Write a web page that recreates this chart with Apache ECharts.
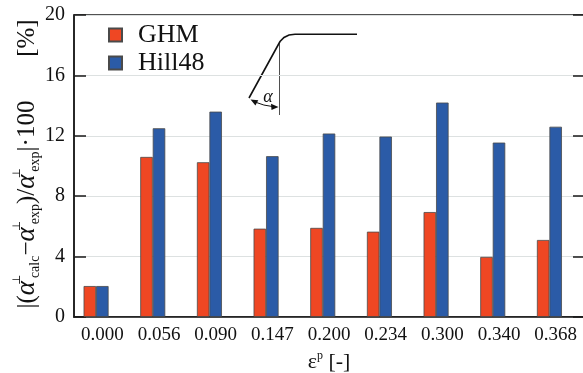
<!DOCTYPE html>
<html lang="en">
<head>
    <meta charset="UTF-8">
    <title>Echarts</title>
    <script type="text/javascript" src="https://cdn.jsdelivr.net/npm/echarts@6/dist/echarts.min.js"></script>
    <style>
        html, body { margin: 0; padding: 0; background: #fff; }
    </style>
</head>
<body>
<div id="main" style="width: 583px; height: 373px;"></div>

<script type="text/javascript">
    // plastic strain levels (x axis)
    var strains = ['0.000', '0.056', '0.090', '0.147', '0.200', '0.234', '0.300', '0.340', '0.368'];
    // relative error of the angle, in %
    var ghm = [2.05, 10.6, 10.25, 5.85, 5.9, 5.65, 6.95, 3.98, 5.1];
    var hill48 = [2.05, 12.5, 13.6, 10.65, 12.15, 11.95, 14.2, 11.55, 12.6];
    // empty third slot, only so the pair sits left of the category centre like in the figure
    var spacer = [null, null, null, null, null, null, null, null, null];
    var yTicks = {min: 0, max: 20, interval: 4};

    var serif = '"Liberation Serif", "Times New Roman", serif';
    var myChart = echarts.init(document.getElementById('main'));

    var barBorder = {borderColor: '#4a4a4a', borderWidth: 0.8};

    myChart.setOption({
        animation: false,
        grid: {
            left: 74, right: -1, top: 15, bottom: 56,
            outerBoundsMode: 'none',
            containLabel: false,
            show: true, borderColor: '#1a1a1a', borderWidth: 1.5
        },
        legend: {
            data: ['GHM', 'Hill48'],
            orient: 'vertical',
            left: 103, top: 17,
            icon: 'rect',
            itemWidth: 13, itemHeight: 13,
            itemGap: 2,
            textStyle: {
                fontFamily: serif, fontSize: 26, color: '#111',
                lineHeight: 26, padding: [0, 0, 0, 11]
            }
        },
        xAxis: {
            type: 'category',
            data: strains,
            axisLine: {lineStyle: {color: '#1a1a1a', width: 1.5}},
            axisTick: {inside: true, length: 11, lineStyle: {color: '#1a1a1a', width: 1.5}},
            axisLabel: {fontFamily: serif, fontSize: 19, color: '#111', margin: 9},
            name: '{e|ε}{p|p}{t| [-]}',
            nameLocation: 'middle',
            nameGap: 31,
            nameTextStyle: {
                rich: {
                    e: {fontFamily: serif, fontSize: 22, color: '#111', lineHeight: 24},
                    p: {fontFamily: serif, fontSize: 12, color: '#111', lineHeight: 12, verticalAlign: 'top'},
                    t: {fontFamily: serif, fontSize: 22, color: '#111', lineHeight: 24}
                }
            }
        },
        yAxis: [{
            type: 'value',
            min: yTicks.min, max: yTicks.max, interval: yTicks.interval,
            axisLine: {show: true, lineStyle: {color: '#1a1a1a', width: 1.5}},
            axisTick: {show: true, inside: true, length: 12, lineStyle: {color: '#1a1a1a', width: 1.5}},
            axisLabel: {fontFamily: serif, fontSize: 20, color: '#111', margin: 9},
            splitLine: {show: true, lineStyle: {color: '#dde1e1', width: 1}}
        }, {
            type: 'value',
            position: 'right',
            min: yTicks.min, max: yTicks.max, interval: yTicks.interval,
            axisLine: {show: false},
            axisTick: {show: true, inside: true, length: 11, lineStyle: {color: '#1a1a1a', width: 1.5}},
            axisLabel: {show: false},
            splitLine: {show: false}
        }],
        series: [{
            name: 'GHM',
            type: 'bar',
            data: ghm,
            barWidth: 12.5,
            barGap: '0%',
            itemStyle: Object.assign({color: '#ef4723'}, barBorder)
        }, {
            name: 'Hill48',
            type: 'bar',
            data: hill48,
            barWidth: 12.5,
            barGap: '0%',
            itemStyle: Object.assign({color: '#2b5ba7'}, barBorder)
        }, {
            name: 'spacer',
            type: 'bar',
            data: spacer,
            barWidth: 12.5,
            barGap: '0%',
            silent: true
        }],
        graphic: [
            // y axis title, rotated
            {
                type: 'text',
                x: 27, y: 164,
                rotation: Math.PI / 2,
                style: {
                    text: '{n||(}{a|α}{s|⊥}{b|calc}{n|−}{a|α}{s|⊥}{b|exp}{n|)/}{a|α}{s|⊥}{b|exp}{n||·100}{n|       [%]}',
                    align: 'center',
                    verticalAlign: 'middle',
                    fontFamily: serif,
                    fontSize: 25,
                    fill: '#111',
                    rich: {
                        n: {fontFamily: serif, fontSize: 25, fill: '#111', lineHeight: 30},
                        a: {fontFamily: serif, fontSize: 27, fontStyle: 'italic', fill: '#111', lineHeight: 30},
                        s: {fontFamily: '"DejaVu Serif", serif', fontSize: 11, fill: '#111', lineHeight: 14, verticalAlign: 'top', width: 3},
                        b: {fontFamily: serif, fontSize: 14, fill: '#111', lineHeight: 13, verticalAlign: 'bottom'}
                    }
                }
            },
            // small sketch of the bent profile and the angle alpha
            {
                type: 'polyline',
                shape: {points: [[249, 98], [277, 47], [280, 41.5], [284, 37.5], [289, 35], [295, 34.3], [357, 34.3]]},
                style: {stroke: '#111', lineWidth: 1.6, fill: null}
            },
            {
                type: 'line',
                shape: {x1: 279.5, y1: 43, x2: 279.5, y2: 115},
                style: {stroke: '#222', lineWidth: 0.8}
            },
            {
                type: 'arc',
                shape: {cx: 279.5, cy: 44, r: 63, startAngle: Math.PI / 2 + 0.09, endAngle: 1.98, clockwise: true},
                style: {stroke: '#111', lineWidth: 1, fill: null}
            },
            {
                type: 'polygon',
                shape: {points: [[278.5, 107], [271, 103.8], [271.5, 110]]},
                style: {fill: '#111'}
            },
            {
                type: 'polygon',
                shape: {points: [[250.5, 99.5], [258.3, 100.2], [255.4, 105.6]]},
                style: {fill: '#111'}
            },
            {
                type: 'text',
                x: 268, y: 97,
                style: {
                    text: 'α', fontFamily: serif, fontSize: 18, fontStyle: 'italic', fill: '#111',
                    align: 'center', verticalAlign: 'middle'
                }
            }
        ]
    });
</script>
</body>
</html>
